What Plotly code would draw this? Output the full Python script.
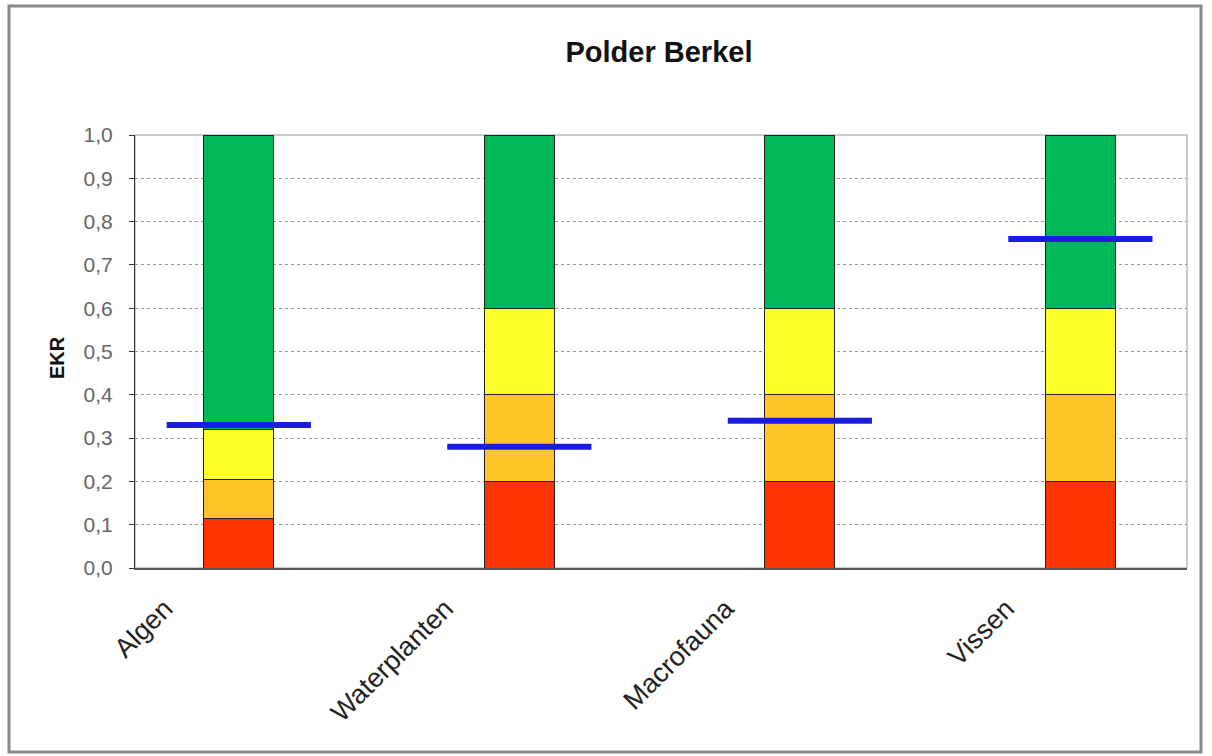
import plotly.graph_objects as go

categories = ["Algen", "Waterplanten", "Macrofauna", "Vissen"]
# class boundaries (stacked segment heights)
red_vals = [0.115, 0.2, 0.2, 0.2]
orange_vals = [0.09, 0.2, 0.2, 0.2]
yellow_vals = [0.115, 0.2, 0.2, 0.2]
green_vals = [0.68, 0.4, 0.4, 0.4]
score_vals = [0.33, 0.28, 0.34, 0.76]
y_ticks = [0.0, 0.1, 0.2, 0.3, 0.4, 0.5, 0.6, 0.7, 0.8, 0.9, 1.0]

xpos = list(range(len(categories)))

fig = go.Figure()
seg_colors = ["#FF3300", "#FFC425", "#FFFF2A", "#00B956"]
for vals, col in zip([red_vals, orange_vals, yellow_vals, green_vals], seg_colors):
    fig.add_trace(go.Bar(x=xpos, y=vals, width=0.25, marker=dict(color=col, line=dict(color="#222222", width=1)),
                         showlegend=False, hoverinfo="skip"))

lx, ly = [], []
for i, v in zip(xpos, score_vals):
    lx += [i - 0.257, i + 0.257, None]
    ly += [v, v, None]
fig.add_trace(go.Scatter(x=lx, y=ly, mode="lines", line=dict(color="#1C1CE0", width=6), showlegend=False))

L, R, T, B = 135, 1187, 135, 568
W, H = 1212, 756
pw, ph = R - L, B - T

def px(x):
    return (x - L) / pw

def py(y):
    return (B - y) / ph

fig.update_layout(
    width=W, height=H, barmode="stack",
    margin=dict(l=L, r=W - R, t=T, b=H - B, autoexpand=False),
    paper_bgcolor="white", plot_bgcolor="white",
    font=dict(family="Liberation Sans, Arial, sans-serif", color="#222"),
    title=dict(text="<b>Polder Berkel</b>", xref="container", x=659 / W, xanchor="center",
               yref="container", y=1 - 52 / H, yanchor="middle",
               font=dict(size=29, color="#111")),
    xaxis=dict(range=[-0.37, 3.38], tickvals=xpos, ticktext=categories, tickangle=-45,
               ticklabelshift=-74, ticklabelstandoff=12, automargin=False,
               tickfont=dict(size=27, color="#222"), showgrid=False, zeroline=False,
               showline=True, linecolor="#555", linewidth=2, ticks=""),
    yaxis=dict(range=[0, 1.0], tickvals=y_ticks, ticktext=[f"{v:.1f}".replace(".", ",") for v in y_ticks],
               tickfont=dict(size=21, color="#666"), ticks="outside", ticklen=5, tickcolor="#333",
               ticklabelstandoff=12, automargin=False,
               showline=True, linecolor="#333", linewidth=1, zeroline=False,
               showgrid=True, gridcolor="#999", griddash="dot", gridwidth=1),
    annotations=[
        dict(text="<b>EKR</b>", xref="paper", yref="paper", x=px(57), y=py(358), textangle=-90,
             showarrow=False, xanchor="center", yanchor="middle", font=dict(size=20, color="#111")),
    ],
    shapes=[
        dict(type="rect", xref="paper", yref="paper", x0=0, x1=1, y0=0, y1=1,
             line=dict(color="#999", width=1), layer="below"),
        dict(type="rect", xref="paper", yref="paper", x0=px(9), x1=px(1201), y0=py(6), y1=py(752),
             line=dict(color="#8a8a8a", width=3)),
    ],
)

fig.write_html("out.html")
